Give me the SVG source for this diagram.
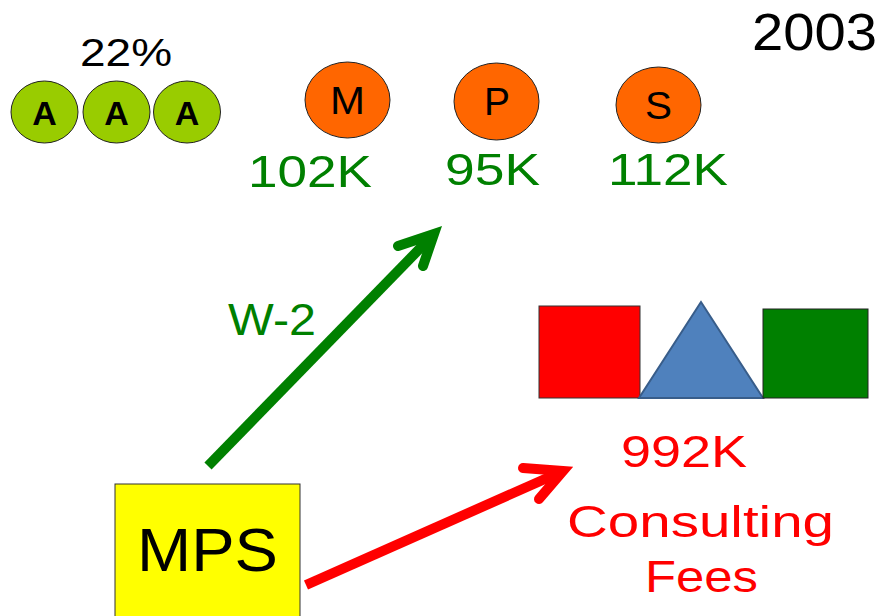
<svg xmlns="http://www.w3.org/2000/svg" width="888" height="616" viewBox="0 0 888 616">
<style>
text{font-family:"Liberation Sans",Arial,sans-serif}
.a{fill:#99CC00;stroke:#222;stroke-width:1}
.o{fill:#FF6600;stroke:#222;stroke-width:1}
.al{font-size:34px;font-weight:bold;fill:#000;text-anchor:middle}
.ol{font-size:39px;fill:#000}
.g{font-size:44px;fill:#008000}
.r{font-size:44px;fill:#FF0000}
.shaft{fill:none;stroke-width:10;stroke-linecap:butt}
.head{fill:none;stroke-width:10;stroke-linecap:round;stroke-linejoin:miter}
</style>
<rect width="888" height="616" fill="#fff"/>
<text id="year" x="752" y="50" font-size="52" fill="#000" textLength="125" lengthAdjust="spacingAndGlyphs">2003</text>
<g id="pct"><text x="80" y="66" font-size="39" fill="#000" textLength="92" lengthAdjust="spacingAndGlyphs">22%</text></g>
<g id="a1"><ellipse class="a" cx="44.5" cy="112" rx="33.5" ry="31"/><text class="al" x="44.5" y="125">A</text></g>
<g id="a2"><ellipse class="a" cx="116.5" cy="112" rx="33.5" ry="31"/><text class="al" x="116.5" y="125">A</text></g>
<g id="a3"><ellipse class="a" cx="187" cy="112" rx="33.5" ry="31"/><text class="al" x="187" y="125">A</text></g>
<g id="m"><ellipse class="o" cx="347.5" cy="100" rx="42.5" ry="38"/><text class="ol" x="330" y="114" textLength="35" lengthAdjust="spacingAndGlyphs">M</text><text class="g" x="248" y="187" textLength="124" lengthAdjust="spacingAndGlyphs">102K</text></g>
<g id="p"><ellipse class="o" cx="496.5" cy="101.5" rx="42.5" ry="38.5"/><text class="ol" x="484" y="115" textLength="26" lengthAdjust="spacingAndGlyphs">P</text><text class="g" x="445" y="185" textLength="95" lengthAdjust="spacingAndGlyphs">95K</text></g>
<g id="s"><ellipse class="o" cx="658.5" cy="105" rx="42.5" ry="38"/><text class="ol" x="645" y="119" textLength="27" lengthAdjust="spacingAndGlyphs">S</text><text class="g" x="608" y="185" textLength="120" lengthAdjust="spacingAndGlyphs">112K</text></g>
<g id="shapes">
<rect x="539" y="306" width="101" height="92" fill="#FF0000" stroke="#333" stroke-width="1"/>
<polygon points="701,302 639,398 763,398" fill="#4F81BD" stroke="#385D8A" stroke-width="2"/>
<rect x="763" y="309" width="105" height="89" fill="#008000" stroke="#222" stroke-width="1"/>
<text class="r" x="621" y="467" textLength="126" lengthAdjust="spacingAndGlyphs">992K</text>
<text class="r" x="567" y="537" textLength="267" lengthAdjust="spacingAndGlyphs">Consulting</text>
<text class="r" x="645" y="592" textLength="113" lengthAdjust="spacingAndGlyphs">Fees</text>
</g>
<g id="mps"><rect x="115" y="484" width="185" height="140" fill="#FFFF00" stroke="#333" stroke-width="1"/><text x="137" y="571" font-size="61" fill="#000" textLength="141" lengthAdjust="spacingAndGlyphs">MPS</text></g>
<g id="connectors">
<path class="shaft" stroke="#008000" d="M208,466 L434,234"/>
<path class="head" stroke="#008000" d="M398,246 L434,234 L423,266"/>
<text class="g" x="228" y="335" textLength="88" lengthAdjust="spacingAndGlyphs">W-2</text>
<path class="shaft" stroke="#FF0000" d="M306,585 L563,471"/>
<path class="head" stroke="#FF0000" d="M523,468 L563,471 L539,499"/>
</g>
</svg>
